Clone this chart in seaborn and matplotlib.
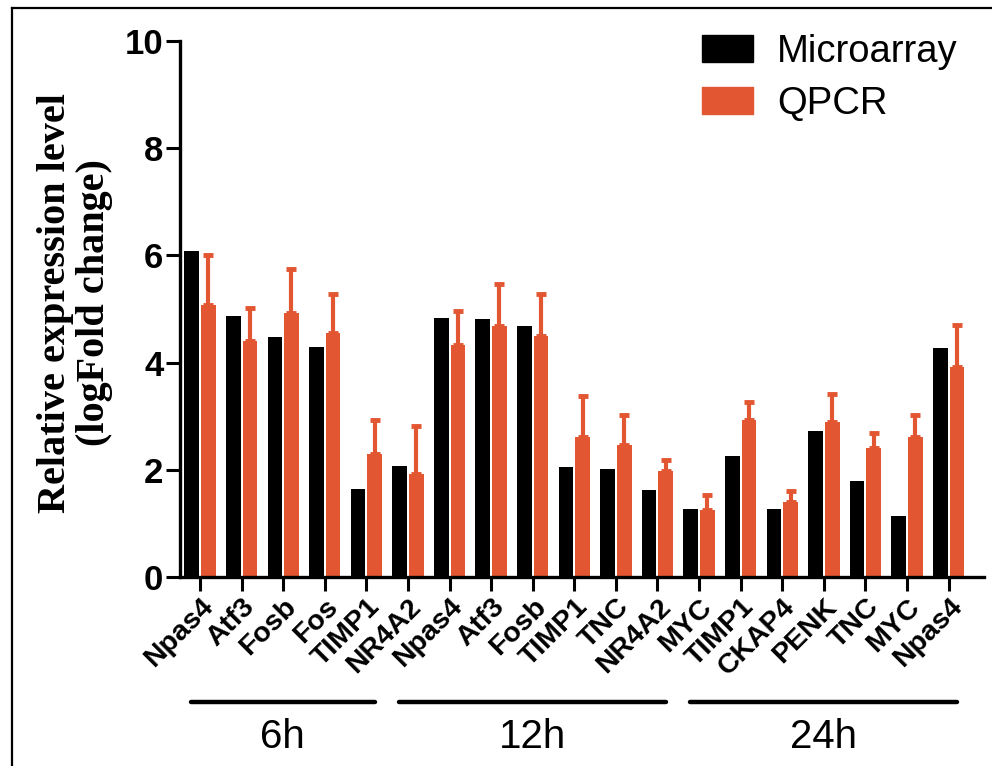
import numpy as np
import pandas as pd
import matplotlib
matplotlib.use("Agg")
import matplotlib.pyplot as plt
import matplotlib.transforms as mtransforms
from matplotlib.lines import Line2D
from matplotlib.patches import Patch
import seaborn as sns

# ---- data ----
groups = ["6h"] * 5 + ["12h"] * 7 + ["24h"] * 7
genes = ["Npas4", "Atf3", "Fosb", "Fos", "TIMP1",
         "NR4A2", "Npas4", "Atf3", "Fosb", "TIMP1", "TNC", "NR4A2",
         "MYC", "TIMP1", "CKAP4", "PENK", "TNC", "MYC", "Npas4"]
microarray = [6.09, 4.87, 4.48, 4.29, 1.65,
              2.08, 4.83, 4.81, 4.68, 2.06, 2.02, 1.62,
              1.27, 2.26, 1.27, 2.73, 1.80, 1.13, 4.27]
qpcr = [5.07, 4.40, 4.93, 4.55, 2.29,
        1.92, 4.33, 4.68, 4.50, 2.62, 2.46, 1.98,
        1.25, 2.93, 1.39, 2.90, 2.40, 2.62, 3.91]
qpcr_err = [0.94, 0.62, 0.81, 0.73, 0.63,
            0.90, 0.64, 0.78, 0.78, 0.75, 0.57, 0.20,
            0.28, 0.33, 0.21, 0.52, 0.29, 0.40, 0.80]
series = ["Microarray", "QPCR"]
group_names = ["6h", "12h", "24h"]

BLACK = "#000000"
ORANGE = "#E35632"

keys = [f"{g}_{i}_{n}" for i, (g, n) in enumerate(zip(groups, genes))]
df = pd.DataFrame({
    "key": keys * 2,
    "value": microarray + qpcr,
    "series": [series[0]] * len(keys) + [series[1]] * len(keys),
})

W, H = 992, 766
fig = plt.figure(figsize=(W / 100, H / 100), dpi=100)
ax = fig.add_axes([180 / W, 1 - 577 / H, (984 - 180) / W, (577 - 41) / H])

sns.barplot(data=df, x="key", y="value", hue="series", order=keys,
            hue_order=series, palette={series[0]: BLACK, series[1]: ORANGE},
            width=0.8, gap=0.12, saturation=1, errorbar=None, ax=ax,
            legend=False)

# error bars (upper only) on QPCR bars
qc = ax.containers[1]
xs = [p.get_x() + p.get_width() / 2 for p in qc]
ax.errorbar(xs, qpcr, yerr=[np.zeros(len(qpcr)), qpcr_err], fmt="none",
            ecolor=ORANGE, elinewidth=3.0, capsize=3.5, capthick=3.5, zorder=1)

ax.set_ylim(0, 10)
ax.set_xlim(-0.48, 18.85)
ax.set_yticks([0, 2, 4, 6, 8, 10])
ax.set_yticklabels(["0", "2", "4", "6", "8", "10"], fontsize=25,
                   fontweight="bold", family="Liberation Sans")
ax.set_xticks(range(len(keys)))
ax.set_xticklabels(genes, fontsize=20.5, fontweight="bold",
                   family="Liberation Sans", rotation=45, ha="right",
                   va="top", rotation_mode="anchor")
offset = mtransforms.ScaledTranslation(9 / 100, -12 / 100, fig.dpi_scale_trans)
for lab in ax.get_xticklabels():
    lab.set_transform(lab.get_transform() + offset)

ax.tick_params(axis="both", direction="out", length=10, width=2.2,
               color="black", pad=2)
for s in ["top", "right"]:
    ax.spines[s].set_visible(False)
for s in ["left", "bottom"]:
    ax.spines[s].set_linewidth(2.4)
    ax.spines[s].set_color("black")
ax.set_xlabel("")
ax.set_ylabel("")
ax.set_facecolor("white")

# y label
fig.text(75 / W, 1 - 303 / H, "Relative expression level\n(logFold change)",
         rotation=90, ha="center", va="center", multialignment="center",
         fontsize=29, fontweight="bold", family="Liberation Serif",
         linespacing=1.05)

# group lines and labels
trans = mtransforms.blended_transform_factory(ax.transData, ax.transAxes)
idx = np.arange(len(groups))
for gname in group_names:
    members = idx[np.array(groups) == gname]
    x0, x1 = members.min() - 0.22, members.max() + 0.2
    ax.add_line(Line2D([x0, x1], [-0.233, -0.233], transform=trans,
                       color="black", lw=3.2, clip_on=False,
                       solid_capstyle="round"))
    ax.text((x0 + x1) / 2, -0.298, gname, transform=trans, ha="center",
            va="center", fontsize=29, family="Liberation Sans")

# legend
handles = [Patch(facecolor=BLACK, edgecolor=BLACK),
           Patch(facecolor=ORANGE, edgecolor=ORANGE)]
fig.legend(handles, series, loc="upper left",
           bbox_to_anchor=(702 / W, 1 - 34 / H), frameon=False,
           prop={"family": "Liberation Sans", "size": 27.5},
           handlelength=1.34, handleheight=0.72, handletextpad=0.62,
           labelspacing=0.42, borderpad=0, borderaxespad=0)

# outer frame (partial border)
fig.add_artist(Line2D([12 / W, 1], [1 - 8 / H, 1 - 8 / H],
                      transform=fig.transFigure, color="black", lw=1.6))
fig.add_artist(Line2D([12 / W, 12 / W], [0, 1 - 8 / H],
                      transform=fig.transFigure, color="black", lw=1.6))

fig.savefig("out.png", dpi=100, facecolor="white")
